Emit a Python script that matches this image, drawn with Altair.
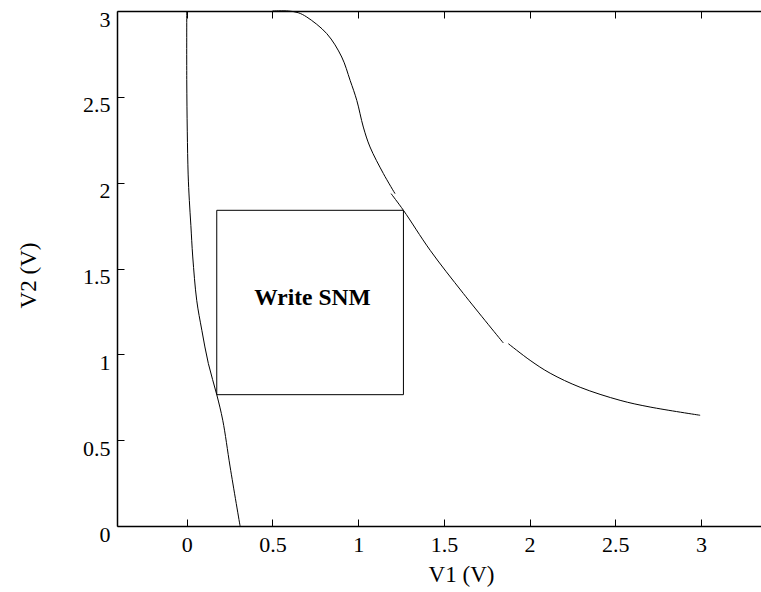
import altair as alt
import pandas as pd

# Curve 1 (left, steep)
c1_x = [0.0, 0.0, 0.003, 0.008, 0.015, 0.024, 0.035, 0.058, 0.088, 0.126, 0.175, 0.210, 0.253, 0.311]
c1_y = [3.0, 2.60, 2.30, 2.05, 1.897, 1.75, 1.567, 1.315, 1.140, 0.946, 0.765, 0.616, 0.344, 0.0]

# Curve 2 (right), three pieces
c2a_x = [0.50, 0.593, 0.650, 0.700, 0.817, 0.904, 0.953, 0.992, 1.030, 1.069, 1.147, 1.215]
c2a_y = [3.0, 3.0, 2.990, 2.965, 2.868, 2.732, 2.596, 2.479, 2.324, 2.208, 2.053, 1.936]
c2b_x = [1.192, 1.264, 1.420, 1.614, 1.847]
c2b_y = [1.936, 1.839, 1.606, 1.354, 1.066]
c2c_x = [1.876, 2.003, 2.120, 2.295, 2.528, 2.703, 2.995]
c2c_y = [1.062, 0.965, 0.890, 0.808, 0.732, 0.693, 0.645]

# Write SNM box
box_x = [0.175]
box_x2 = [1.264]
box_y = [0.765]
box_y2 = [1.839]
label_text = ["Write SNM"]
label_x = [0.733]
label_y = [1.286]

tick_vals = [0, 0.5, 1, 1.5, 2, 2.5, 3]

W, H = 644, 515
FONT = "Liberation Serif"
INWARD = {"expr": "-7"}

rows = []
for seg, (xs, ys) in enumerate([(c1_x, c1_y), (c2a_x, c2a_y), (c2b_x, c2b_y), (c2c_x, c2c_y)]):
    for i, (a, b) in enumerate(zip(xs, ys)):
        rows.append({"x": a, "y": b, "seg": seg, "i": i})
curves = pd.DataFrame(rows)

xscale = alt.Scale(domain=[-0.407, 3.35], nice=False, zero=False)
yscale = alt.Scale(domain=[0, 3], nice=False, zero=False)

xaxis = alt.Axis(orient="bottom", values=tick_vals, format="~g", grid=False,
                 ticks=True, tickSize=INWARD, tickColor="black", tickWidth=1,
                 domainColor="black", domainWidth=1.5,
                 labelFont=FONT, labelFontSize=22, labelColor="black",
                 labelPadding=15, labelBaseline="top", labelFlush=False, labelOverlap=False,
                 title="V1 (V)", titleFont=FONT, titleFontSize=23, titleFontWeight="normal",
                 titleColor="black", titleX=344, titleY=55, titleAlign="center",
                 titleBaseline="alphabetic")
xaxis_top = alt.Axis(orient="top", values=tick_vals, grid=False, labels=False,
                     ticks=True, tickSize=INWARD, tickColor="black", tickWidth=1,
                     domainColor="black", domainWidth=1.5, title=None)
yaxis = alt.Axis(values=tick_vals, format="~g", grid=False,
                 ticks=True, tickSize=INWARD, tickColor="black", tickWidth=1,
                 domainColor="black", domainWidth=1.5,
                 labelFont=FONT, labelFontSize=22, labelColor="black",
                 labelPadding=14, labelBaseline="top", labelOffset=-2, labelAlign="right",
                 labelFlush=False, labelOverlap=False,
                 title="V2 (V)", titleFont=FONT, titleFontSize=23, titleFontWeight="normal",
                 titleColor="black", titleX=-82, titleY=264, titleAlign="center",
                 titleBaseline="alphabetic", titleAngle=270)

X = alt.X("x:Q", scale=xscale, axis=xaxis)
XT = alt.X("x:Q", scale=xscale, axis=xaxis_top)
XN = alt.X("x:Q", scale=xscale, axis=None)
Y = alt.Y("y:Q", scale=yscale, axis=yaxis)
YN = alt.Y("y:Q", scale=yscale, axis=None)

lines = alt.Chart(curves).mark_line(color="black", strokeWidth=1, interpolate="catmull-rom").encode(
    x=X, y=Y, detail="seg:N", order="i:Q"
)

box_df = pd.DataFrame({"x": box_x, "x2": box_x2, "y": box_y, "y2": box_y2})
box = alt.Chart(box_df).mark_rect(fill=None, stroke="black", strokeWidth=1).encode(
    x=XT, x2="x2:Q", y=YN, y2="y2:Q"
)

txt_df = pd.DataFrame({"x": label_x, "y": label_y, "t": label_text})
txt = alt.Chart(txt_df).mark_text(font=FONT, fontSize=23.5, fontWeight="bold",
                                  color="black", baseline="alphabetic", align="center").encode(
    x=XN, y=YN, text="t:N"
)

chart = alt.layer(lines, box, txt).resolve_axis(x="independent", y="independent").properties(
    width=W, height=H,
    autosize=alt.AutoSizeParams(type="none"),
    padding={"left": 117, "top": 11, "right": 0, "bottom": 66},
    background="white",
).configure_view(stroke=None)

chart.save("out.html", embed_options={"renderer": "svg", "actions": False})
